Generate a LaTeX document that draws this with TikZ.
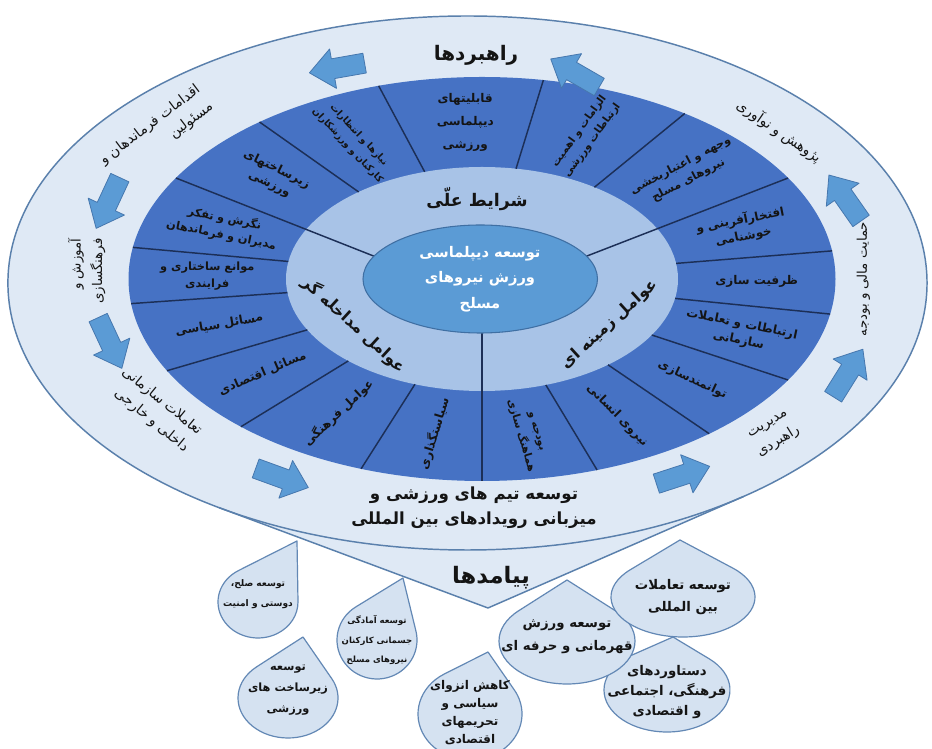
\documentclass[tikz,border=0pt]{standalone}
\usepackage{fontspec}
\newfontfamily\arabicfont[Script=Arabic]{DejaVu Sans}
\TeXXeTstate=1
\usetikzlibrary{calc}
\definecolor{outerfill}{HTML}{DFE9F5}
\definecolor{outerline}{HTML}{5A80AC}
\definecolor{sectorfill}{HTML}{4672C4}
\definecolor{ringfill}{HTML}{A8C3E7}
\definecolor{centerfill}{HTML}{5B9BD5}
\definecolor{centerline}{HTML}{3F6FA3}
\definecolor{divline}{HTML}{1C2F57}
\definecolor{arrowfill}{HTML}{5B9BD5}
\definecolor{arrowline}{HTML}{4677AE}
\definecolor{dropfill}{HTML}{D5E2F1}
\definecolor{dropline}{HTML}{6388B5}
\definecolor{txt}{HTML}{141414}

\newcommand\fa[1]{\beginR #1\endR}
\newcommand\droppts[6]{%
  \pgfmathsetmacro\dux{((#5)-(#1))/(#3)}%
  \pgfmathsetmacro\duy{((#6)-(#2))/(#4)}%
  \pgfmathsetmacro\ddist{sqrt(\dux*\dux+\duy*\duy)}%
  \pgfmathsetmacro\dphi{atan2(\duy,\dux)}%
  \pgfmathsetmacro\ddel{acos(1/\ddist)}%
  \pgfmathsetmacro\dta{\dphi+\ddel}%
  \pgfmathsetmacro\dtb{\dphi-\ddel+360}%
}
\newcommand\dropshape[7]{%
  \droppts{#2}{#3}{#4}{#5}{#6}{#7}%
  \draw[#1] (#6,#7) -- ({#2+#4*cos(\dta)},{#3+#5*sin(\dta)})
     arc[start angle=\dta, end angle=\dtb, x radius=#4, y radius=#5] -- cycle;
}
\newcommand\ringlabel[5][]{%
  \pgfmathsetmacro\rlx{482+1.75*(#3)*cos(#2)}%
  \pgfmathsetmacro\rly{470+(#3)*sin(#2)}%
  \pgfmathsetmacro\rlr{atan2(sin(#4),1.75*cos(#4))}%
  \node[#1, rotate=\rlr] at (\rlx,\rly) {#5};
}
\newcommand\dfont[2]{\arabicfont\bfseries\fontsize{#1}{#2}\selectfont}
\tikzset{
  blockarrow/.pic={\draw[fill=arrowfill, draw=arrowline, line width=0.6pt]
    (-28,-10) -- (4,-10) -- (4,-20) -- (28,0) -- (4,20) -- (4,10) -- (-28,10) -- cycle;},
  divider/.style={draw=divline, line width=1.1pt},
  seclbl/.style={font=\dfont{9}{12.5}, text=txt, align=center, inner sep=0pt},
  grplbl/.style={font=\dfont{12}{14}, text=txt, inner sep=0pt},
  outlbl/.style={font=\arabicfont\fontsize{10.5}{16}\selectfont, text=txt, align=right, inner sep=0pt},
  droplbl/.style={text=txt, align=center, inner sep=0pt},
  dropstyle/.style={fill=dropfill, draw=dropline, line width=0.9pt},
  titlelbl/.style={font=\dfont{15}{17}, text=txt, inner sep=0pt}
}

\begin{document}
\begin{tikzpicture}[x=0.75pt, y=0.75pt, line join=round]
\useasboundingbox (0,0) rectangle (932,749);
\fill[white] (0,0) rectangle (932,749);

% ---------- rings (circle space, stretched) ----------
\begin{scope}[shift={(482,470)}, xscale=1.75]
  \droppts{-8.3}{-4}{262.6}{267}{3.4}{-329}
  \coordinate (oA) at ({-8.3+262.6*cos(\dta)},{-4+267*sin(\dta)});
  \coordinate (oB) at ({-8.3+262.6*cos(\dtb)},{-4+267*sin(\dtb)});
  \coordinate (oT) at (3.4,-329);
  \fill[outerfill] (oA) -- (oT) -- (oB) -- cycle;
  \draw[outerline, line width=1.1pt, fill=outerfill] (-8.3,-4) ellipse[x radius=262.6, y radius=267];
  \draw[outerline, line width=1.1pt] (oA) -- (oT) -- (oB);
  \fill[sectorfill] (0,0) circle[radius=202];
  \fill[ringfill] (0,0) circle[radius=112];
  \foreach \a in {8,55,80,107,129,171,187,207,227,250,289,310,330,350}
    \draw[divider] (\a:112) -- (\a:202);
  \draw[divider] (30:202) -- (59.7,22.8);
  \draw[divider] (150:202) -- (-61.7,22.8);
  \draw[divider] (270:202) -- (0,-54);
  \draw[draw=centerline, fill=centerfill, line width=0.8pt] (-1,0) ellipse[x radius=67, y radius=54];
\end{scope}

% ---------- arrows ----------
\pic[rotate=190] at (337,681) {blockarrow};
\pic[rotate=150] at (575,676) {blockarrow};
\pic[rotate=245] at (108,546) {blockarrow};
\pic[rotate=295] at (110,406) {blockarrow};
\pic[rotate=-20] at (282,271) {blockarrow};
\pic[rotate=18] at (683,274) {blockarrow};
\pic[rotate=58] at (848,376) {blockarrow};
\pic[rotate=125] at (845,551) {blockarrow};

% ---------- sector labels ----------
\ringlabel[seclbl, font=\dfont{8}{12.5}]{279.5}{157}{279.5}{\fa{بودجه و}\\\fa{هماهنگ سازی}}
\ringlabel[seclbl]{299.5}{157}{299.5}{\fa{نیروی انسانی}}
\ringlabel[seclbl]{320}{157}{320}{\fa{توانمندسازی}}
\ringlabel[seclbl]{340}{157}{340}{\fa{ارتباطات و تعاملات}\\\fa{سازمانی}}
\ringlabel[seclbl]{359}{157}{0}{\fa{ظرفیت سازی}}
\ringlabel[seclbl]{19}{157}{19}{\fa{افتخارآفرینی و}\\\fa{خوشنامی}}
\ringlabel[seclbl, font=\dfont{8.5}{12.5}]{42.5}{157}{42.5}{\fa{وجهه و اعتباربخشی}\\\fa{نیروهای مسلح}}
\ringlabel[seclbl, font=\dfont{7.8}{12}]{67.5}{155}{67.5}{\fa{الزامات و اهمیت}\\\fa{ارتباطات ورزشی}}
\ringlabel[seclbl, font=\dfont{9}{17}]{93.5}{157}{0}{\fa{قابلیتهای}\\\fa{دیپلماسی}\\\fa{ورزشی}}
\ringlabel[seclbl, font=\dfont{7}{11.5}]{118}{157}{-62}{\fa{نیازها و انتظارات}\\\fa{کارکنان و ورزشکاران}}
\ringlabel[seclbl]{139.5}{157}{-40.5}{\fa{زیرساختهای}\\\fa{ورزشی}}
\ringlabel[seclbl, font=\dfont{8.5}{12.5}]{160.5}{157}{-19.5}{\fa{نگرش و تفکر}\\\fa{مدیران و فرماندهان}}
\ringlabel[seclbl, font=\dfont{8.5}{12.5}]{179}{157}{0}{\fa{موانع ساختاری و}\\\fa{فرایندی}}
\ringlabel[seclbl]{197}{157}{17}{\fa{مسائل سیاسی}}
\ringlabel[seclbl]{217}{157}{37}{\fa{مسائل اقتصادی}}
\ringlabel[seclbl]{238.5}{157}{58.5}{\fa{عوامل فرهنگی}}
\ringlabel[seclbl]{260}{157}{80}{\fa{سیاستگذاری}}

% ---------- group labels ----------
\node[grplbl, font=\dfont{13}{15}] (causal) at (477,550) {\fa{شرایط علّی}};
\ringlabel[grplbl]{212}{86}{-58}{\fa{عوامل مداخله گر}}
\ringlabel[grplbl]{-32}{86}{58}{\fa{عوامل زمینه ای}}

\node[font=\dfont{11}{19}, text=white, align=center, inner sep=0pt] (core) at (480,470)
  {\fa{توسعه دیپلماسی}\\\fa{ورزش نیروهای}\\\fa{مسلح}};

% ---------- outer ring labels ----------
\node[titlelbl] (strat) at (476,694) {\fa{راهبردها}};
\ringlabel[outlbl]{142}{236}{53}{\fa{اقدامات فرماندهان و}\\\fa{مسئولین}}
\ringlabel[outlbl, font=\arabicfont\fontsize{10}{16}\selectfont]{178}{226}{90}{\fa{آموزش و}\\\fa{فرهنگسازی}}
\ringlabel[outlbl]{215}{228}{-55}{\fa{تعاملات سازمانی}\\\fa{داخلی و خارجی}}
\node[outlbl, align=center, font=\dfont{12.5}{19}] (teams) at (474,241)
  {\fa{توسعه تیم های ورزشی و}\\\fa{میزبانی رویدادهای بین المللی}};
\ringlabel[outlbl, align=center]{-43}{228}{47}{\fa{مدیریت}\\\fa{راهبردی}}
\ringlabel[outlbl, font=\arabicfont\fontsize{10}{16}\selectfont]{0}{218}{90}{\fa{حمایت مالی و بودجه}}
\ringlabel[outlbl]{41}{225}{-50}{\fa{پژوهش و نوآوری}}
\node[titlelbl, font=\dfont{17}{19}] (outc) at (491,171) {\fa{پیامدها}};

% ---------- drops ----------
\dropshape{dropstyle}{288}{51}{50}{40}{303}{112}
\dropshape{dropstyle}{667}{59}{63}{42}{673}{112}
\dropshape{dropstyle}{470}{35}{52}{46}{488}{97}
\dropshape{dropstyle}{258}{147}{40}{36}{297}{208}
\dropshape{dropstyle}{377}{109}{40}{39}{403}{171}
\dropshape{dropstyle}{567}{108}{68}{43}{567}{169}
\dropshape{dropstyle}{683}{152}{72}{40}{680}{209}

\node[droplbl, font=\dfont{6.8}{15.5}] (da) at (258,155) {\fa{توسعه صلح،}\\\fa{دوستی و امنیت}};
\node[droplbl, font=\dfont{6.4}{14.5}] (db) at (377,109) {\fa{توسعه آمادگی}\\\fa{جسمانی کارکنان}\\\fa{نیروهای مسلح}};
\node[droplbl, font=\dfont{8.5}{15.5}] (dc) at (288,59) {\fa{توسعه}\\\fa{زیرساخت های}\\\fa{ورزشی}};
\node[droplbl, font=\dfont{9}{13.5}] (dd) at (470,36) {\fa{کاهش انزوای}\\\fa{سیاسی و}\\\fa{تحریمهای}\\\fa{اقتصادی}};
\node[droplbl, font=\dfont{10}{17}] (de) at (567,112) {\fa{توسعه ورزش}\\\fa{قهرمانی و حرفه ای}};
\node[droplbl, font=\dfont{10}{17}] (df) at (683,152) {\fa{توسعه تعاملات}\\\fa{بین المللی}};
\node[droplbl, font=\dfont{10}{15}] (dg) at (667,57) {\fa{دستاوردهای}\\\fa{فرهنگی، اجتماعی}\\\fa{و اقتصادی}};
\end{tikzpicture}
\end{document}
